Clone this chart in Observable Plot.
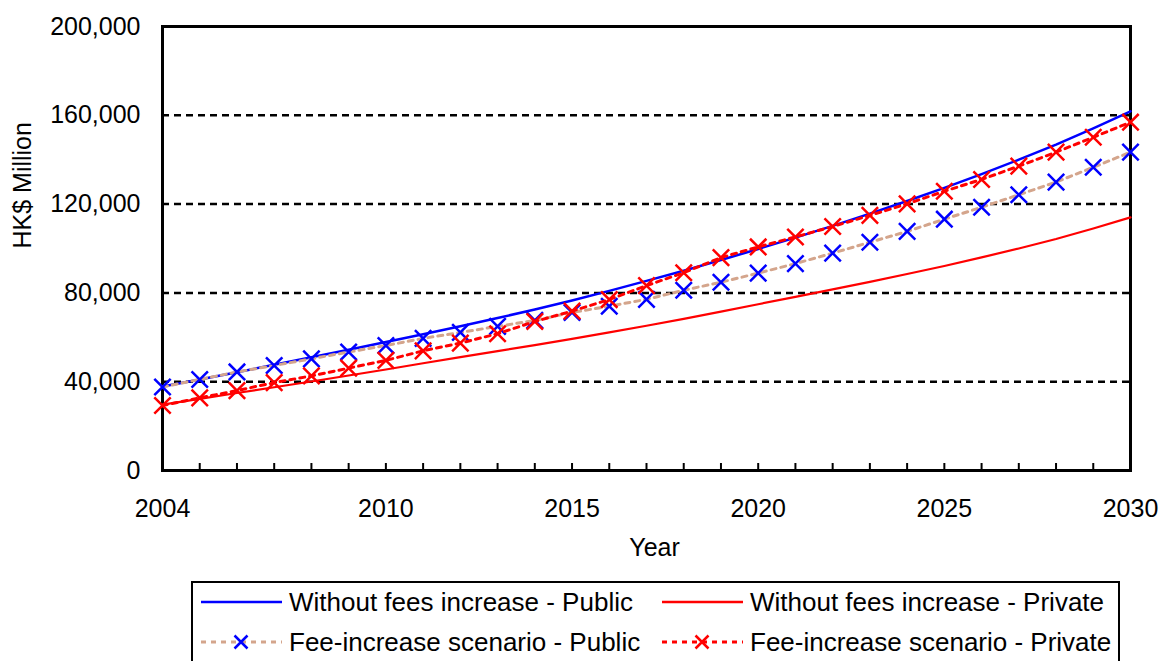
<!DOCTYPE html>
<html><head><meta charset="utf-8">
<script src="https://cdn.jsdelivr.net/npm/d3@7"></script>
<script src="https://cdn.jsdelivr.net/npm/@observablehq/plot@0.6"></script>
<style>
html,body{margin:0;padding:0;overflow:hidden;background:#fff;}
#wrap{position:relative;width:1162px;height:661px;font-family:"Liberation Sans",Arial,sans-serif;}
#chart svg{display:block;}
#legendBox{position:absolute;left:191px;top:581px;width:929px;height:100px;border:2px solid #000;box-sizing:border-box;}
.item{position:absolute;display:flex;align-items:center;height:30px;font-size:26px;color:#000;white-space:nowrap;}
.item svg{display:block;margin-right:7px;}
</style></head>
<body><div id="wrap"><div id="chart"></div><div id="legendBox"></div></div>
<script>
const years = [2004,2005,2006,2007,2008,2009,2010,2011,2012,2013,2014,2015,2016,2017,2018,2019,2020,2021,2022,2023,2024,2025,2026,2027,2028,2029,2030];
const withoutPublic = [37800,41000,44300,47600,51000,54400,57900,61400,65000,68700,72500,76600,80900,85400,90000,94800,99800,104900,110200,115700,121400,127300,133500,140000,146800,154100,161800];
const withoutPrivate = [29700,32300,34900,37500,40100,42800,45500,48300,51100,53800,56500,59300,62200,65200,68300,71600,74900,78200,81600,85000,88500,92100,96000,100000,104300,109000,114000];
const feePublic = [37600,41000,44400,47300,50300,53400,56300,59500,62200,64900,67600,71200,74000,77100,81200,84800,88900,93200,97900,102800,107700,113200,118600,124200,129900,136600,143400];
const feePrivate = [29300,32700,36000,39600,42600,46100,49600,53900,57400,61600,67100,71800,77000,83300,89100,95900,100700,105200,109900,114900,120100,125800,131100,137100,143400,150100,156900];
const yTicks = [0,40000,80000,120000,160000,200000];
const gridValues = [40000,80000,120000,160000];
const xLabelYears = [2004,2010,2015,2020,2025,2030];
const seriesNames = ["Without fees increase - Public","Without fees increase - Private","Fee-increase scenario - Public","Fee-increase scenario - Private"];
const xTitle = "Year";
const yTitle = "HK$ Million";

const BLUE = "#0000ff", RED = "#ff0000", TAN = "#d4a58c";

const rows = years.map((year, i) => ({year, wpub: withoutPublic[i], wpri: withoutPrivate[i], fpub: feePublic[i], fpri: feePrivate[i]}));

const chart = Plot.plot({
  width: 1162, height: 578,
  marginLeft: 162, marginRight: 32, marginTop: 26, marginBottom: 108,
  style: {fontFamily: '"Liberation Sans", Arial, sans-serif', fontSize: "25px", color: "#000", background: "#fff", overflow: "visible"},
  x: {domain: [2004, 2030]},
  y: {domain: [0, 200000]},
  marks: [
    Plot.gridY(gridValues, {stroke: "#000", strokeOpacity: 1, strokeWidth: 2.5, strokeDasharray: "7,5"}),
    Plot.frame({stroke: "#000", strokeWidth: 3}),
    Plot.axisY({ticks: yTicks, tickSize: 0, tickPadding: 22, tickFormat: d3.format(","), label: null}),
    Plot.axisX({ticks: years, tickSize: 7, dy: -7, tickFormat: () => "", label: null, strokeWidth: 2}),
    Plot.axisX({ticks: xLabelYears, tickSize: 0, tickPadding: 29, tickFormat: d3.format("d"), label: null}),
    Plot.text([yTitle], {frameAnchor: "left", dx: -140, rotate: -90, text: d => d}),
    Plot.text([xTitle], {frameAnchor: "bottom", dx: 8, dy: 85, text: d => d}),
    Plot.line(rows, {x: "year", y: "wpub", stroke: BLUE, strokeWidth: 2.5}),
    Plot.line(rows, {x: "year", y: "wpri", stroke: RED, strokeWidth: 2.2}),
    Plot.line(rows, {x: "year", y: "fpub", stroke: TAN, strokeWidth: 3, strokeDasharray: "5,5"}),
    Plot.dot(rows, {x: "year", y: "fpub", symbol: "times", r: 7.5, stroke: BLUE, strokeWidth: 2.5}),
    Plot.line(rows, {x: "year", y: "fpri", stroke: RED, strokeWidth: 3, strokeDasharray: "5,5"}),
    Plot.dot(rows, {x: "year", y: "fpri", symbol: "times", r: 7.5, stroke: RED, strokeWidth: 2.5})
  ]
});
document.getElementById("chart").appendChild(chart);

// Legend
const legendItems = [
  {name: seriesNames[0], color: BLUE, dash: null, marker: false, left: 201, top: 587},
  {name: seriesNames[1], color: RED, dash: null, marker: false, left: 662, top: 587},
  {name: seriesNames[2], color: TAN, dash: "5,5", marker: true, markerColor: BLUE, left: 201, top: 627},
  {name: seriesNames[3], color: RED, dash: "5,5", marker: true, markerColor: RED, left: 662, top: 627}
];
const wrap = document.getElementById("wrap");
const ns = "http://www.w3.org/2000/svg";
for (const it of legendItems) {
  const div = document.createElement("div");
  div.className = "item";
  div.style.left = it.left + "px";
  div.style.top = it.top + "px";
  const svg = document.createElementNS(ns, "svg");
  svg.setAttribute("width", 81); svg.setAttribute("height", 30);
  const line = document.createElementNS(ns, "line");
  line.setAttribute("x1", 0); line.setAttribute("x2", 81);
  line.setAttribute("y1", 15); line.setAttribute("y2", 15);
  line.setAttribute("stroke", it.color);
  line.setAttribute("stroke-width", it.dash ? 3 : 2.5);
  if (it.dash) line.setAttribute("stroke-dasharray", it.dash);
  svg.appendChild(line);
  if (it.marker) {
    const p = document.createElementNS(ns, "path");
    p.setAttribute("d", "M33.5,8.5L46.5,21.5M33.5,21.5L46.5,8.5");
    p.setAttribute("stroke", it.markerColor);
    p.setAttribute("stroke-width", 2.5);
    p.setAttribute("fill", "none");
    svg.appendChild(p);
  }
  div.appendChild(svg);
  const span = document.createElement("span");
  span.textContent = it.name;
  div.appendChild(span);
  wrap.appendChild(div);
}
</script>
</body></html>
